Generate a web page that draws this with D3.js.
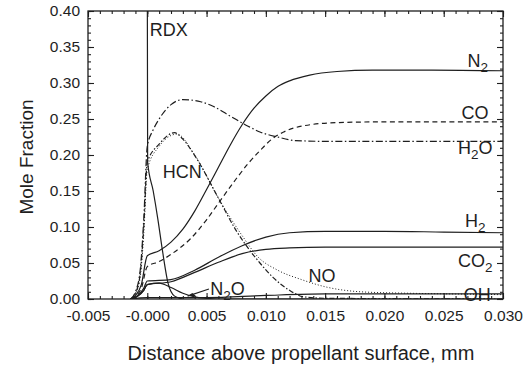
<!DOCTYPE html>
<html>
<head>
<meta charset="utf-8">
<script src="https://cdn.jsdelivr.net/npm/d3@7"></script>
<style>
  body { margin: 0; background: #fff; }
  svg { display: block; font-family: "Liberation Sans", Arial, sans-serif; }
</style>
</head>
<body>
<div id="chart"></div>
<script>
// species profiles, [distance mm, mole fraction]
const rdx = [[0, 0.45], [0.00003, 0.19], [0.0005, 0.15], [0.0009, 0.11], [0.0013, 0.065], [0.00175, 0.022], [0.0023, 0.004], [0.003, 0]];
const n2 = [[-0.0014, 0], [-0.001, 0.005], [-0.0005, 0.02], [0, 0.06], [0.001, 0.067], [0.002, 0.079], [0.003, 0.097], [0.004, 0.122], [0.005, 0.152], [0.006, 0.183], [0.007, 0.214], [0.008, 0.242], [0.009, 0.265], [0.010, 0.282], [0.011, 0.295], [0.012, 0.303], [0.0137, 0.311], [0.016, 0.316], [0.019, 0.318], [0.024, 0.318], [0.030, 0.317]];
const co = [[-0.0014, 0], [-0.001, 0.004], [-0.0005, 0.015], [0, 0.045], [0.001, 0.052], [0.002, 0.062], [0.0036, 0.083], [0.005, 0.11], [0.006, 0.133], [0.0075, 0.167], [0.0085, 0.188], [0.0095, 0.206], [0.0105, 0.222], [0.0115, 0.232], [0.013, 0.240], [0.016, 0.245], [0.020, 0.246], [0.030, 0.246]];
const h2o = [[-0.0014, 0], [-0.001, 0.01], [-0.0006, 0.04], [-0.0003, 0.11], [0, 0.212], [0.0005, 0.235], [0.001, 0.25], [0.002, 0.27], [0.003, 0.277], [0.0045, 0.274], [0.0055, 0.268], [0.007, 0.254], [0.0085, 0.240], [0.0095, 0.232], [0.011, 0.225], [0.0125, 0.220], [0.015, 0.219], [0.030, 0.219]];
const hcn = [[-0.0014, 0], [-0.001, 0.008], [-0.0006, 0.035], [-0.0003, 0.1], [0, 0.19], [0.001, 0.215], [0.0023, 0.231], [0.003, 0.222], [0.0042, 0.194], [0.006, 0.14], [0.0075, 0.095], [0.0084, 0.073], [0.0095, 0.05], [0.0106, 0.03], [0.012, 0.012], [0.0132, 0.003], [0.015, 0.001], [0.030, 0]];
const no = [[-0.0014, 0], [-0.001, 0.007], [-0.0006, 0.03], [-0.0003, 0.09], [0, 0.18], [0.001, 0.212], [0.0025, 0.229], [0.004, 0.2], [0.006, 0.14], [0.008, 0.088], [0.0093, 0.059], [0.011, 0.04], [0.013, 0.027], [0.015, 0.017], [0.018, 0.01], [0.022, 0.008], [0.026, 0.007], [0.030, 0.006]];
const h2 = [[-0.0014, 0], [-0.0008, 0.005], [-0.0003, 0.015], [0, 0.025], [0.002, 0.027], [0.004, 0.04], [0.006, 0.058], [0.008, 0.074], [0.010, 0.086], [0.012, 0.092], [0.015, 0.094], [0.020, 0.094], [0.025, 0.093], [0.030, 0.092]];
const co2 = [[-0.0014, 0], [-0.0008, 0.004], [-0.0003, 0.012], [0, 0.02], [0.002, 0.024], [0.004, 0.037], [0.006, 0.051], [0.008, 0.063], [0.010, 0.069], [0.012, 0.071], [0.015, 0.072], [0.030, 0.072]];
const n2o = [[-0.0014, 0], [-0.0008, 0.004], [-0.0003, 0.012], [0, 0.02], [0.001, 0.022], [0.002, 0.016], [0.003, 0.008], [0.004, 0.003], [0.005, 0.001], [0.006, 0], [0.030, 0]];
const oh = [[-0.0014, 0], [0, 0.002], [0.005, 0.002], [0.010, 0.005], [0.015, 0.007], [0.030, 0.007]];

const xTicks = [-0.005, 0, 0.005, 0.010, 0.015, 0.020, 0.025, 0.030];
const xTickLabels = ["-0.005", "-0.000", "0.005", "0.010", "0.015", "0.020", "0.025", "0.030"];
const yTicks = [0, 0.05, 0.10, 0.15, 0.20, 0.25, 0.30, 0.35, 0.40];

const width = 527, height = 368;
const m = { left: 88, right: 503, top: 11, bottom: 299 };

const x = d3.scaleLinear().domain([-0.005, 0.030]).range([m.left, m.right]);
const y = d3.scaleLinear().domain([0, 0.40]).range([m.bottom, m.top]);

const svg = d3.select("#chart").append("svg")
  .attr("width", width)
  .attr("height", height);

svg.append("defs").append("clipPath").attr("id", "plot")
  .append("rect").attr("x", m.left).attr("y", m.top)
  .attr("width", m.right - m.left).attr("height", m.bottom - m.top);

const ink = "#1e1e1e";

// axes with inward ticks on all four sides
const minorX = d3.range(-5, 31).map(d => d / 1000);
const minorY = d3.range(0, 41).map(d => d / 100);

svg.append("g").attr("transform", `translate(0,${m.bottom})`)
  .call(d3.axisBottom(x).tickValues(minorX).tickSize(-3).tickFormat(""));
svg.append("g").attr("transform", `translate(0,${m.bottom})`)
  .call(d3.axisBottom(x).tickValues(xTicks).tickSize(-6).tickPadding(11)
    .tickFormat((d, i) => xTickLabels[i]));
svg.append("g").attr("transform", `translate(0,${m.top})`)
  .call(d3.axisTop(x).tickValues(minorX).tickSize(-3).tickFormat(""));
svg.append("g").attr("transform", `translate(0,${m.top})`)
  .call(d3.axisTop(x).tickValues(xTicks).tickSize(-6).tickFormat(""));

svg.append("g").attr("transform", `translate(${m.left},0)`)
  .call(d3.axisLeft(y).tickValues(minorY).tickSize(-3).tickFormat(""));
svg.append("g").attr("transform", `translate(${m.left},0)`)
  .call(d3.axisLeft(y).tickValues(yTicks).tickSize(-6).tickPadding(8)
    .tickFormat(d3.format(".2f")));
svg.append("g").attr("transform", `translate(${m.right},0)`)
  .call(d3.axisRight(y).tickValues(minorY).tickSize(-3).tickFormat(""));
svg.append("g").attr("transform", `translate(${m.right},0)`)
  .call(d3.axisRight(y).tickValues(yTicks).tickSize(-6).tickFormat(""));

svg.selectAll(".domain").remove();
svg.selectAll(".tick line").attr("stroke", ink).attr("stroke-width", 1.1);
svg.selectAll(".tick text").attr("fill", ink).attr("font-size", 15.5)
  .attr("font-family", "Liberation Sans, Arial, sans-serif");

svg.append("rect")
  .attr("x", m.left).attr("y", m.top)
  .attr("width", m.right - m.left).attr("height", m.bottom - m.top)
  .attr("fill", "none").attr("stroke", ink).attr("stroke-width", 1.3);

// curves
const line = d3.line()
  .x(d => x(d[0]))
  .y(d => y(d[1]))
  .curve(d3.curveMonotoneX);

const series = [
  { data: rdx, dash: null },
  { data: n2, dash: null },
  { data: h2, dash: null },
  { data: co2, dash: null },
  { data: n2o, dash: null },
  { data: oh, dash: null },
  { data: co, dash: "5,3.5" },
  { data: h2o, dash: "7,2.5,1.5,2.5" },
  { data: hcn, dash: "5,2,1.5,2" },
  { data: no, dash: "1,2" }
];

const plot = svg.append("g").attr("clip-path", "url(#plot)");
plot.selectAll("path")
  .data(series)
  .enter()
  .append("path")
  .attr("d", d => line(d.data))
  .attr("fill", "none")
  .attr("stroke", ink)
  .attr("stroke-width", d => d.dash === "1,2" ? 1 : 1.2)
  .attr("stroke-dasharray", d => d.dash);

// N2O pointer
plot.append("line")
  .attr("x1", x(0.0052)).attr("y1", y(0.014))
  .attr("x2", x(0.0034)).attr("y2", y(0.004))
  .attr("stroke", ink).attr("stroke-width", 1.1);
plot.append("path")
  .attr("d", d3.line()([[x(0.0034), y(0.004)], [x(0.0041), y(0.004)], [x(0.0038), y(0.0085)]]))
  .attr("fill", ink);

// species labels: [text, subscript, tail, x, y]
const labels = [
  ["RDX", "", "", 0.0002, 0.365],
  ["N", "2", "", 0.0270, 0.322],
  ["CO", "", "", 0.0265, 0.25],
  ["H", "2", "O", 0.0262, 0.202],
  ["HCN", "", "", 0.0013, 0.168],
  ["H", "2", "", 0.0268, 0.1],
  ["CO", "2", "", 0.0262, 0.045],
  ["NO", "", "", 0.0136, 0.023],
  ["N", "2", "O", 0.0053, 0.005],
  ["OH", "", "", 0.0267, -0.003]
];

const lab = svg.append("g").attr("fill", ink).attr("font-size", 18);
labels.forEach(l => {
  const t = lab.append("text").attr("x", x(l[3])).attr("y", y(l[4]));
  t.append("tspan").text(l[0]);
  if (l[1]) t.append("tspan").attr("font-size", 13.5).attr("dy", 5).text(l[1]);
  if (l[2]) t.append("tspan").attr("dy", -5).text(l[2]);
});

// axis titles
svg.append("text")
  .attr("x", 301).attr("y", 360)
  .attr("text-anchor", "middle")
  .attr("font-size", 20)
  .attr("fill", ink)
  .text("Distance above propellant surface, mm");

svg.append("text")
  .attr("transform", "translate(33,157) rotate(-90)")
  .attr("text-anchor", "middle")
  .attr("font-size", 19)
  .attr("fill", ink)
  .text("Mole Fraction");
</script>
</body>
</html>
